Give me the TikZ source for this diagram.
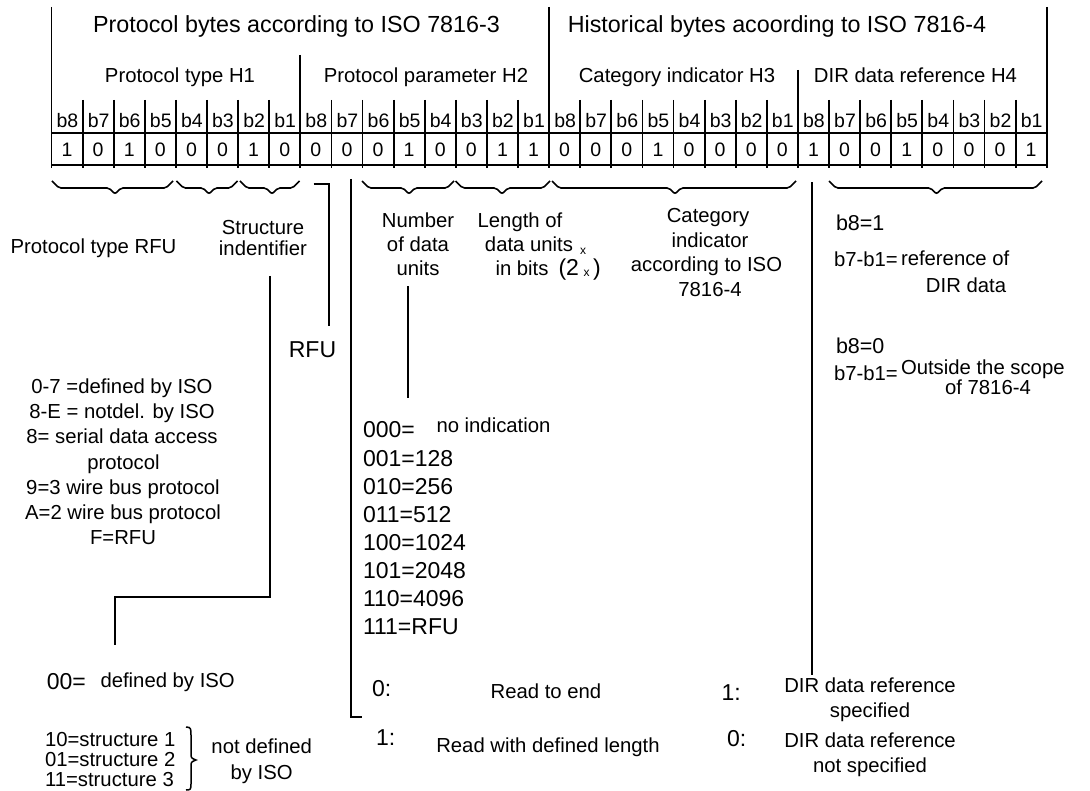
\documentclass[tikz,border=0pt]{standalone}
\usepackage{fontspec}
\setmainfont{Liberation Sans}
\newcommand\mybrc[3]{\draw[brc] (#1,181) -- ({#1+7},188) -- ({#3-6},188) -- (#3,194) -- ({#3+6},188) -- ({#2-7},188) -- (#2,181);}
\begin{document}
\begin{tikzpicture}[x=1pt,y=-1pt,line width=1.8pt,
  every node/.style={inner sep=0pt,outer sep=0pt},
  big/.style={font=\fontsize{23.3}{28}\selectfont},
  mid/.style={font=\fontsize{20.3}{24}\selectfont},
  bit/.style={font=\fontsize{19.5}{22}\selectfont},
  num/.style={font=\fontsize{23}{28}\selectfont},
  bee/.style={font=\fontsize{21.5}{26}\selectfont},
  tiny/.style={font=\fontsize{12}{14}\selectfont},
  brc/.style={line width=1.6pt,rounded corners=2pt},
  ln/.style={line width=1.8pt}]
\useasboundingbox (0,0) rectangle (1090,791);
% headers
\node[big,anchor=base] (hp) at (296.5,33) {Protocol bytes according to ISO 7816-3};
\node[big,anchor=base] (hh) at (777,33) {Historical bytes acoording to ISO 7816-4};
\node[mid,anchor=base] (h1) at (180,83) {Protocol type H1};
\node[mid,anchor=base] (h2) at (426,83) {Protocol parameter H2};
\node[mid,anchor=base] (h3) at (677,83) {Category indicator H3};
\node[mid,anchor=base] (h4) at (915.5,83) {DIR data reference H4};
% bit table
\foreach \k in {0,...,31} {
  \pgfmathtruncatemacro\bb{8-mod(\k,8)}
  \node[bit,anchor=base] (bl\k) at ({51.5+31.1*\k+16},127.5) {b\bb};
}
\foreach \v [count=\k from 0] in {1,0,1,0,0,0,1,0, 0,0,0,1,0,0,1,1, 0,0,0,1,0,0,0,0, 1,0,0,1,0,0,0,1} {
  \node[bit,anchor=base] (bv\k) at ({51.5+31.1*\k+15.55},156.5) {\v};
}
\foreach \k in {0,...,32} {
  \draw[ln] ({51.5+31.1*\k},100) -- ({51.5+31.1*\k},168);
}
\draw[ln] (51.5,7) -- (51.5,100);
\draw[ln] (549.1,7) -- (549.1,100);
\draw[ln] (1046.7,7) -- (1046.7,100);
\draw[ln] (300.3,55) -- (300.3,100);
\draw[ln] (797.9,70) -- (797.9,100);
\draw[ln] (51.5,133) -- (1048,133);
\draw[ln] (51.5,165) -- (1048,165);
% braces
\mybrc{52}{173}{115}
\mybrc{176.5}{237.5}{209}
\mybrc{240}{299.5}{272}
\mybrc{362}{454}{409}
\mybrc{455.6}{550}{502}
\mybrc{552}{796}{675}
\mybrc{829}{1042}{936.5}
% labels under braces
\node[mid,anchor=base] (ptr) at (93.5,254) {Protocol type RFU};
\node[mid,anchor=base] (st1) at (263,235) {Structure};
\node[mid,anchor=base] (st2) at (263,255.5) {indentifier};
\node[num,anchor=base] (rfu) at (312.5,358) {RFU};
\node[mid,anchor=base] (nu1) at (418,227.5) {Number};
\node[mid,anchor=base] (nu2) at (418,251.5) {of data};
\node[mid,anchor=base] (nu3) at (418,276) {units};
\node[mid,anchor=base] (le1) at (520,227.5) {Length of};
\node[mid,anchor=base] (le2) at (529,251.5) {data units};
\node[mid,anchor=base west] (le3) at (495.5,276) {in bits};
\node[num,anchor=base west] (le4) at (558.5,276) {(2};
\node[num,anchor=base west] (le5) at (593,276) {)};
\node[tiny] (sx1) at (583,251) {x};
\node[tiny] (sx2) at (586.5,273) {x};
\node[mid,anchor=base] (ca1) at (708,223) {Category};
\node[mid,anchor=base] (ca2) at (710,247.5) {indicator};
\node[mid,anchor=base] (ca3) at (706.5,272) {according to ISO};
\node[mid,anchor=base] (ca4) at (710,296.5) {7816-4};
% right block
\node[bee,anchor=base west] (r1) at (836,231) {b8=1};
\node[mid,anchor=base west] (r2) at (834,267) {b7-b1=};
\node[mid,anchor=base west] (r3) at (901,266) {reference of};
\node[mid,anchor=base] (r4) at (966,292.5) {DIR data};
\node[bee,anchor=base west] (r5) at (836,354) {b8=0};
\node[mid,anchor=base west] (r6) at (834,381) {b7-b1=};
\node[mid,anchor=base west] (r7) at (901,375) {Outside the scope};
\node[mid,anchor=base] (r8) at (988,395) {of 7816-4};
% left list
\node[mid,anchor=base] (l1) at (122,394) {0-7 =defined by ISO};
\node[mid,anchor=base] (l2) at (122,419) {8-E = notdel. by ISO};
\node[mid,anchor=base] (l3) at (122,444) {8= serial data access};
\node[mid,anchor=base] (l4) at (123.5,469) {protocol};
\node[mid,anchor=base] (l5) at (123,494) {9=3 wire bus protocol};
\node[mid,anchor=base] (l6) at (123,519) {A=2 wire bus protocol};
\node[mid,anchor=base] (l7) at (123,544) {F=RFU};
% middle list
\node[num,anchor=base west] (m0) at (363,438) {000=};
\node[mid,anchor=base west] (m0b) at (436.5,433) {no indication};
\node[num,anchor=base west] (m1) at (363,466) {001=128};
\node[num,anchor=base west] (m2) at (363,494) {010=256};
\node[num,anchor=base west] (m3) at (363,522) {011=512};
\node[num,anchor=base west] (m4) at (363,550) {100=1024};
\node[num,anchor=base west] (m5) at (363,578) {101=2048};
\node[num,anchor=base west] (m6) at (363,606) {110=4096};
\node[num,anchor=base west] (m7) at (363,634) {111=RFU};
% structure values
\node[num,anchor=base west] (s0) at (46.8,689.5) {00=};
\node[mid,anchor=base west] (s0b) at (100.5,687) {defined by ISO};
\node[mid,anchor=base west] (s1) at (45,746) {10=structure 1};
\node[mid,anchor=base west] (s2) at (45,766) {01=structure 2};
\node[mid,anchor=base west] (s3) at (45,786) {11=structure 3};
\draw[line width=1.5pt] (186,727) .. controls (191,727) and (191,729) .. (191,735) -- (191,753) .. controls (191,758) .. (196,760) .. controls (191,762) .. (191,767) -- (191,784) .. controls (191,790) and (190,790) .. (186,790);
\node[mid,anchor=base] (nd1) at (261.7,753.5) {not defined};
\node[mid,anchor=base] (nd2) at (261.7,779) {by ISO};
% read
\node[num,anchor=base west] (rd0) at (372,696) {0:};
\node[mid,anchor=base] (rd0b) at (546,698) {Read to end};
\node[num,anchor=base west] (rd1) at (376,745) {1:};
\node[mid,anchor=base] (rd1b) at (548,752) {Read with defined length};
% dir
\node[num,anchor=base west] (d1) at (721.7,700) {1:};
\node[mid,anchor=base] (d1b) at (870,692) {DIR data reference};
\node[mid,anchor=base] (d1c) at (870,717) {specified};
\node[num,anchor=base west] (d0) at (727,746) {0:};
\node[mid,anchor=base] (d0b) at (870,747) {DIR data reference};
\node[mid,anchor=base] (d0c) at (870,772) {not specified};
% connector lines
\coordinate (c1) at (313.6,184);
\coordinate (c2) at (329,326);
\draw[ln] (c1) -| (c2);
\coordinate (c3) at (350.7,179);
\coordinate (c4) at (362,717);
\draw[ln] (c3) |- (c4);
\coordinate (c5) at (270,276);
\coordinate (c6) at (115,645);
\draw[ln] (c5) -- (270,597) -| (c6);
\coordinate (c7) at (408,286.5);
\coordinate (c8) at (408,398);
\draw[ln] (c7) -- (c8);
\coordinate (c9) at (811.8,182.5);
\coordinate (c10) at (811.8,674.5);
\draw[ln] (c9) -- (c10);
\end{tikzpicture}
\end{document}
